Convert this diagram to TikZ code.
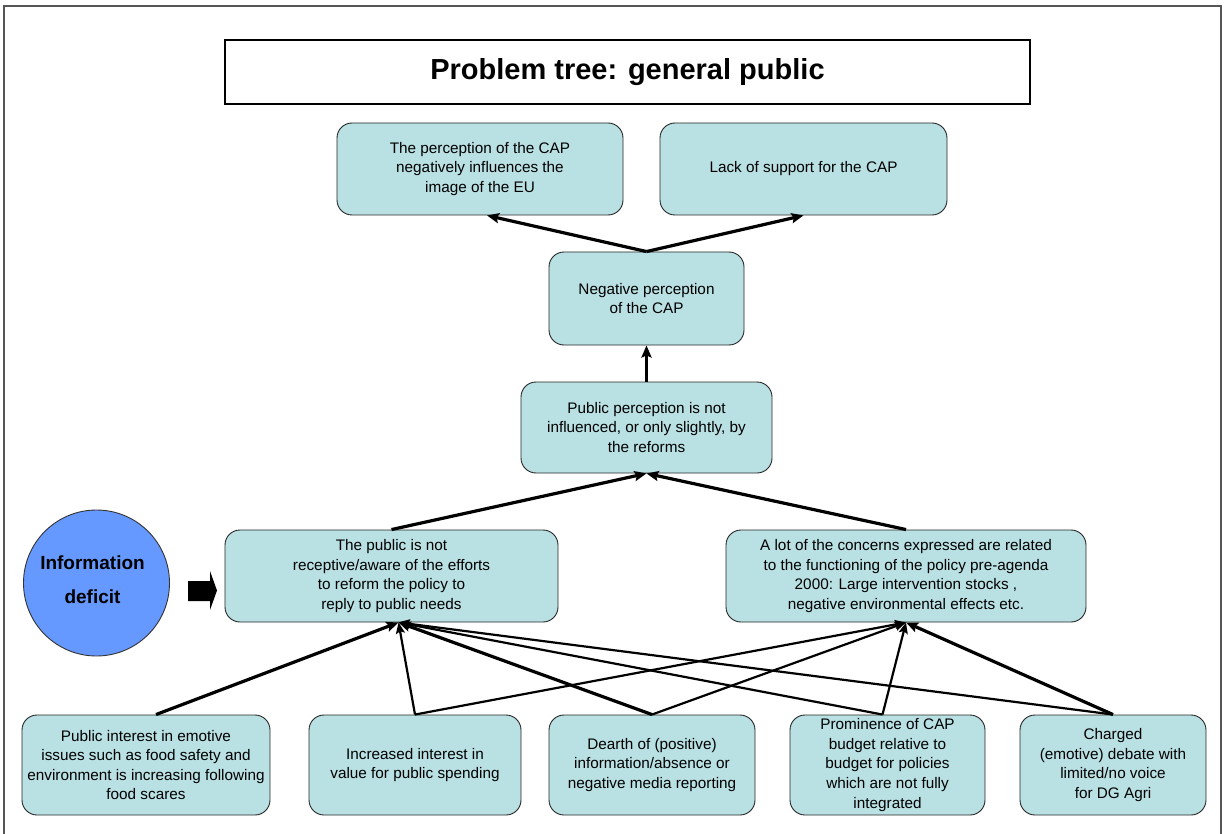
\documentclass[tikz,border=0pt]{standalone}
\usepackage{fontspec}
\setmainfont{Liberation Sans}
\usetikzlibrary{arrows.meta}
\definecolor{boxfill}{HTML}{B9E0E3}
\definecolor{causeblue}{HTML}{6699FF}
\definecolor{framegray}{HTML}{555555}
\tikzset{
  probbox/.style={draw=black!85, line width=0.9pt, fill=boxfill, rounded corners=15pt,
    align=center, inner sep=2pt, font=\fontsize{15.3}{19.6}\selectfont},
  link/.style={line width=2.2pt, -{Stealth[length=11pt,width=9pt,inset=2pt]}},
  strong/.style={line width=3.2pt, -{Stealth[length=12pt,width=10pt,inset=2pt]}},
}
\begin{document}
\begin{tikzpicture}[x=1pt,y=-1pt]
\useasboundingbox (0,0) rectangle (1225,834);
% outer frame
\draw[framegray, line width=1.3pt] (4,834) -- (4,6) -- (1221,6) -- (1221,834);

% title
\node[draw=black, line width=1.1pt, fill=white, minimum width=805pt, minimum height=64pt,
      font=\fontsize{29}{34}\selectfont\bfseries] (title) at (627.5,72) {Problem tree: general public};

% effects
\node[probbox, minimum width=286pt, minimum height=92pt] (p1) at (480,169)
  {The perception of the CAP\\negatively influences the\\image of the EU};
\node[probbox, minimum width=287pt, minimum height=92pt] (p2) at (803.5,169)
  {Lack of support for the CAP};
\node[probbox, minimum width=195pt, minimum height=93pt] (neg) at (646.5,298.5)
  {Negative perception\\of the CAP};
\node[probbox, minimum width=251pt, minimum height=91pt] (pub) at (646.5,427.5)
  {Public perception is not\\influenced, or only slightly, by\\the reforms};
\node[probbox, minimum width=333pt, minimum height=92pt] (rec) at (391.5,576)
  {The public is not\\receptive/aware of the efforts\\to reform the policy to\\reply to public needs};
\node[probbox, minimum width=360pt, minimum height=92pt] (lot) at (906,576)
  {A lot of the concerns expressed are related\\to the functioning of the policy pre-agenda\\2000: Large intervention stocks ,\\negative environmental effects etc.};

% causes
\node[probbox, minimum width=248pt, minimum height=100pt] (b1) at (146,765)
  {Public interest in emotive\\issues such as food safety and\\environment is increasing following\\food scares};
\node[probbox, minimum width=212pt, minimum height=100pt] (b2) at (415,765)
  {Increased interest in\\value for public spending};
\node[probbox, minimum width=206pt, minimum height=100pt] (b3) at (652,765)
  {Dearth of (positive)\\information/absence or\\negative media reporting};
\node[probbox, minimum width=195pt, minimum height=100pt] (b4) at (887.5,765)
  {Prominence of CAP\\budget relative to\\budget for policies\\which are not fully\\integrated};
\node[probbox, minimum width=186pt, minimum height=100pt] (b5) at (1113,765)
  {Charged\\(emotive) debate with\\limited/no voice\\for DG Agri};

% root cause and block arrow
\node[circle, draw=black!80, line width=0.9pt, fill=causeblue, minimum size=146pt,
      inner sep=0pt] (info) at (96.5,583) {};
\node[align=center, inner sep=0pt, font=\fontsize{19}{34}\selectfont\bfseries]
      (infotext) at ([xshift=-4pt,yshift=3pt]info.center) {Information\\deficit};
\fill[black] (188,581) -- (210,581) -- (210,571) -- (217,590.5) -- (210,610) -- (210,601) -- (188,601) -- cycle;

% connectors
\draw[strong] (neg.north) -- ([xshift=7pt]p1.south);
\draw[strong] (neg.north) -- (p2.south);
\draw[strong] (pub.north) -- (neg.south);
\draw[strong] (rec.north) -- (pub.south);
\draw[strong] (lot.north) -- (pub.south);

\coordinate (recin) at ([xshift=7pt]rec.south);
\coordinate (b1top) at ([xshift=10pt]b1.north);
\coordinate (b4top) at ([xshift=-5pt]b4.north);
\draw[strong] (b1top) -- (recin);
\draw[link]   (b2.north) -- (recin);
\draw[strong] (b3.north) -- (recin);
\draw[link]   (b4top) -- (recin);
\draw[link]   (b5.north) -- (recin);
\draw[link]   (b2.north) -- (lot.south);
\draw[link]   (b3.north) -- (lot.south);
\draw[link]   (b4top) -- (lot.south);
\draw[strong] (b5.north) -- (lot.south);
\end{tikzpicture}
\end{document}
